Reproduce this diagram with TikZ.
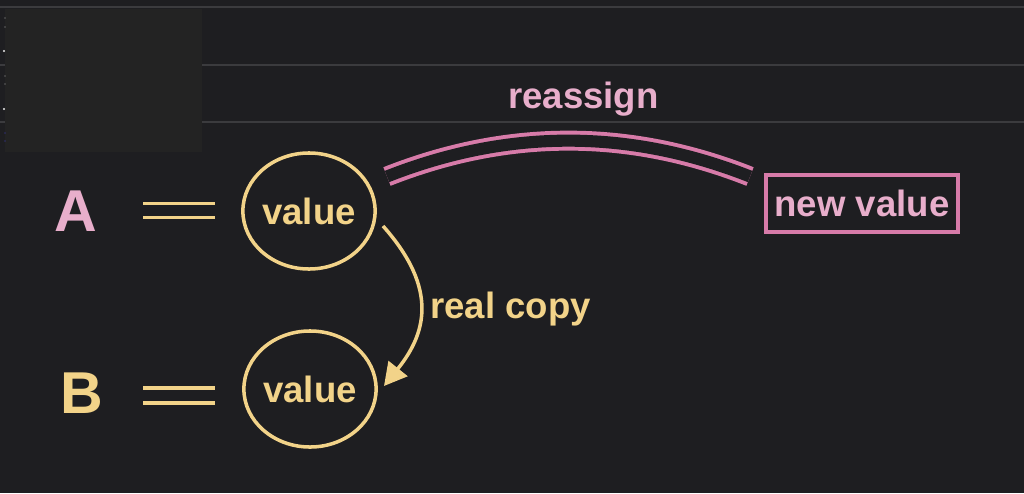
\documentclass[tikz,border=0pt]{standalone}
\usepackage{fontspec}
\setmainfont{Liberation Sans}
\usetikzlibrary{shapes.geometric,arrows.meta}
\definecolor{bg}{HTML}{1E1E21}
\definecolor{panel}{HTML}{232323}
\definecolor{gridc}{HTML}{3B3B3E}
\definecolor{chalkyellow}{HTML}{F2D389}
\definecolor{pinkline}{HTML}{D77BA9}
\definecolor{pinktext}{HTML}{E8AECB}
\tikzset{
  lbl/.style={font=\fontsize{26}{30}\selectfont\bfseries, inner sep=0pt},
  big/.style={font=\fontsize{42}{46}\selectfont\bfseries, inner sep=0pt},
  valcircle/.style={ellipse, draw=chalkyellow, line width=2.5pt, text=chalkyellow,
    minimum width=3.3cm, minimum height=2.9cm, inner sep=0pt,
    font=\fontsize{26}{30}\selectfont\bfseries},
  eqline/.style={chalkyellow, line width=2.8pt},
  gridline/.style={gridc, line width=1.4pt},
}
\begin{document}
\begin{tikzpicture}[x=0.025cm,y=-0.025cm]
\useasboundingbox (0,0) rectangle (1024,493);
\fill[bg] (0,0) rectangle (1024,493);
% editor chrome
\draw[gridline] (0,7) -- (1024,7);
\draw[gridline] (0,65) -- (1024,65);
\draw[gridline] (0,122) -- (1024,122);
\fill[panel] (5,8.5) rectangle (202,152);
\foreach \yy in {18,27,76,84} \fill[gray!70] (5,\yy) circle (0.6);
\foreach \yy in {51,109} \fill[white!85!gray] (4,\yy) circle (1.2);
\foreach \yy in {133,141} \fill[blue!50!gray] (5,\yy) circle (0.6);

% A row
\node[big, text=pinktext] (A) at (75.5,211) {A};
\draw[eqline] (143,203.5) -- (215,203.5);
\draw[eqline] (143,217.5) -- (215,217.5);
\node[valcircle] (vA) at (309,211) {value};

% B row
\node[big, text=chalkyellow] (B) at (82,393) {B};
\draw[eqline] (143,388) -- (215,388);
\draw[eqline] (143,403) -- (215,403);
\node[valcircle] (vB) at (310,389) {value};

% new value box
\node[lbl, draw=pinkline, line width=2.5pt, text=pinktext,
      minimum width=4.8cm, minimum height=1.425cm] (nv) at (862,203.5) {new value};

% reassign double curve
\coordinate (rs) at (387,176.5);
\coordinate (re) at (750,176.5);
\draw[pinkline, line width=2.8pt, double=bg, double distance=8.6pt]
  (rs) .. controls (508,128.7) and (629,128.7) .. (re);
\node[lbl, text=pinktext, anchor=base west] (reassign) at (508,108) {reassign};

% real copy arrow
\coordinate (cs) at (383,226);
\coordinate (ce) at (384,386);
\draw[chalkyellow, line width=2.5pt, -{Triangle[length=16pt,width=17pt]}]
  (cs) .. controls (440,290) and (425,335) .. (ce);
\node[lbl, text=chalkyellow, anchor=base west] (rc) at (430,318) {real copy};
\end{tikzpicture}
\end{document}
